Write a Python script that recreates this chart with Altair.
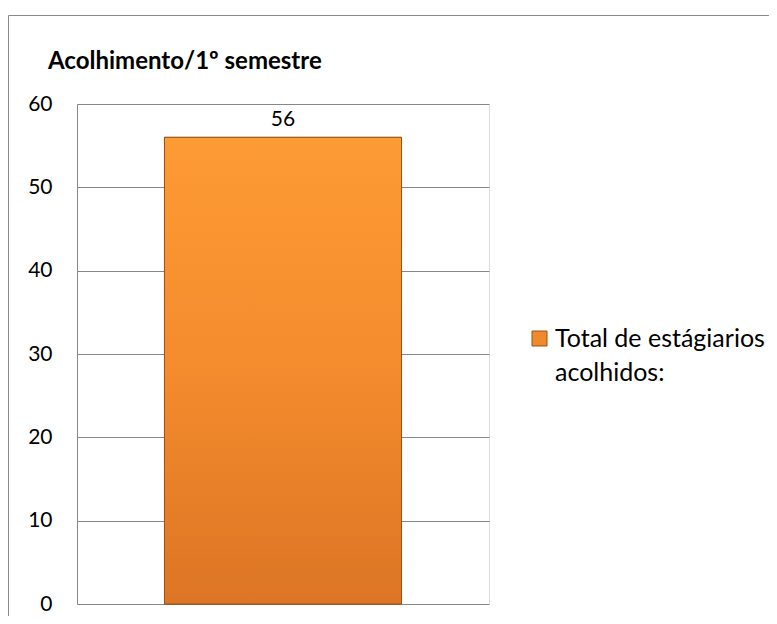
import altair as alt
import pandas as pd

categories = ["Total de estágiarios acolhidos:"]
values = [56]
y_ticks = [0, 10, 20, 30, 40, 50, 60]
title_text = "Acolhimento/1º semestre"

df = pd.DataFrame({"serie": categories, "valor": values})

FONT = "Lato"

xenc = alt.X("serie:N", axis=None,
             scale=alt.Scale(paddingInner=0, paddingOuter=0.369))
yenc = alt.Y("valor:Q",
             scale=alt.Scale(domain=[0, 60], nice=False),
             axis=alt.Axis(values=y_ticks, title=None, grid=True,
                           gridColor="#878787", gridWidth=1,
                           domainColor="#878787", ticks=False,
                           labelFontSize=21, labelFont=FONT,
                           labelColor="#000000", labelPadding=25))

frame = alt.Chart(df).mark_rect(fill="transparent", stroke="#8a8a8a",
                                strokeWidth=1).encode(
    x=alt.value(-68.5), x2=alt.value(900),
    y=alt.value(-88.5), y2=alt.value(800))

base_bar = alt.Chart(df).mark_bar(stroke="#9a531a", strokeWidth=1).encode(
    x=xenc, y=yenc,
    color=alt.Color("serie:N",
                    scale=alt.Scale(range=["#f08a2c"]),
                    legend=alt.Legend(title=None, orient="none",
                                      legendX=450, legendY=222,
                                      symbolType="square",
                                      symbolSize=225,
                                      symbolStrokeColor="#9a531a",
                                      symbolStrokeWidth=1,
                                      labelFont=FONT, labelFontSize=25,
                                      labelColor="#000000",
                                      labelLimit=400,
                                      labelOffset=3,
                                      labelBaseline="middle",
                                      labelExpr="[substring(datum.label, 0, 20), substring(datum.label, 21)]")))

grad_bar = alt.Chart(df).mark_bar(
    stroke="#9a531a", strokeWidth=1,
    fill=alt.Gradient(gradient="linear",
                      stops=[alt.GradientStop(color="#fd9b35", offset=0),
                             alt.GradientStop(color="#f48b2d", offset=0.5),
                             alt.GradientStop(color="#dc7525", offset=1)],
                      x1=0, x2=0, y1=0, y2=1)).encode(x=xenc, y=yenc)

labels = alt.Chart(df).mark_text(baseline="alphabetic", dy=-11, fontSize=21,
                                 font=FONT, color="#000000").encode(
    x=xenc, y=yenc, text=alt.Text("valor:Q"))

chart = alt.layer(frame, base_bar, grad_bar, labels).properties(
    width=412, height=500,
    title=alt.TitleParams(title_text, anchor="start", frame="group",
                          dx=-29, offset=-77.5, baseline="alphabetic",
                          fontSize=24, font=FONT,
                          fontWeight="bold", color="#000000"),
    autosize=alt.AutoSizeParams(type="none"),
    padding={"left": 69, "top": 96, "right": 280, "bottom": 12},
).configure_view(strokeWidth=0).configure(
    style={"guide-label": {"lineHeight": 34}})

chart.save("out.html", embed_options={"renderer": "svg", "actions": False})
